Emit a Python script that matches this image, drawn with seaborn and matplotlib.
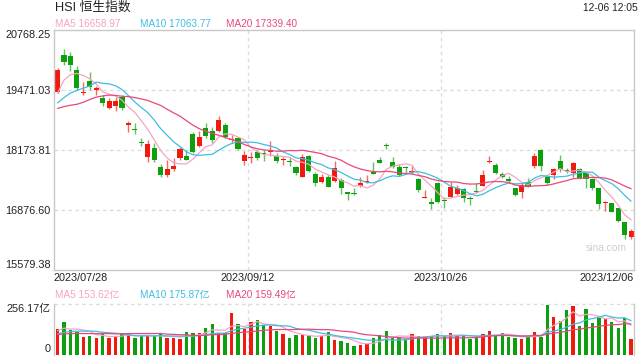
import numpy as np
import pandas as pd
import matplotlib
matplotlib.use('Agg')
import matplotlib.pyplot as plt
import seaborn as sns

# HSI daily candles, 2023/07/28 .. 2023/12/06 (index points)
open_ = [19434, 20228, 20206, 19903, 19400, 19666, 19471, 19305, 19075, 19132,
         19326, 18715, 18628, 18353, 18029, 18224, 17813, 17634, 17770, 17994,
         18044, 18520, 18260, 18643, 18591, 18591, 18715, 18390, 18427, 17936,
         18007, 18131, 18116, 18131, 18051, 17958, 17936, 17806, 17584, 18044,
         17655, 17489, 17597, 17504, 17525, 17259, 17251, 17396, 17476, 17705,
         17958, 18267, 17921, 17813, 17800, 17705, 17540, 17136, 17056, 17467,
         17093, 17164, 17222, 17324, 17143, 17288, 17396, 17921, 17850, 17648,
         17547, 17346, 17272, 17489, 17828, 18174, 17597, 17634, 17936, 17742,
         17670, 17757, 17670, 17540, 17346, 17021, 17021, 16914, 16611, 16299]
high = [19947, 20351, 20299, 19990, 19651, 19854, 19564, 19363, 19298, 19313,
        19363, 18801, 18751, 18440, 18390, 18319, 17871, 17958, 17994, 18245,
        18174, 18570, 18591, 18751, 18678, 18909, 18751, 18498, 18462, 18159,
        18137, 18174, 18174, 18368, 18102, 18029, 18016, 17828, 18081, 18066,
        17705, 17655, 17634, 17936, 17562, 17272, 17346, 17597, 17634, 17921,
        18016, 18319, 18016, 17865, 17828, 17850, 17562, 17309, 17143, 17489,
        17151, 17489, 17417, 17359, 17186, 17467, 17742, 18044, 17886, 17705,
        17612, 17359, 17467, 17562, 18102, 18189, 17634, 17791, 18066, 17791,
        17921, 17778, 17705, 17562, 17359, 17072, 17035, 16927, 16624, 16459]
low = [19400, 20012, 19888, 19471, 19363, 19471, 19363, 19125, 19060, 19024,
       19039, 18570, 18514, 18260, 17921, 17921, 17584, 17597, 17720, 17958,
       17958, 18102, 18245, 18427, 18319, 18570, 18427, 18319, 18174, 17850,
       17886, 17958, 17943, 18044, 17899, 17850, 17828, 17634, 17584, 17705,
       17396, 17467, 17368, 17489, 17222, 17093, 17201, 17380, 17454, 17655,
       17886, 18189, 17778, 17612, 17670, 17649, 17272, 17129, 16892, 17022,
       16914, 17151, 17201, 17056, 16985, 17237, 17396, 17899, 17655, 17562,
       17467, 17179, 17129, 17368, 17778, 17726, 17417, 17540, 17705, 17670,
       17597, 17540, 17359, 17309, 16892, 16861, 16827, 16624, 16243, 16243]
close = [19903, 20083, 20012, 19508, 19421, 19542, 19508, 19184, 19240, 19233,
         19088, 18764, 18606, 18340, 18304, 17958, 17634, 17763, 17828, 18189,
         17958, 18137, 18462, 18477, 18390, 18822, 18462, 18412, 18195, 18066,
         18022, 17994, 18087, 18159, 17943, 17986, 17908, 17683, 18016, 17726,
         17467, 17597, 17380, 17778, 17346, 17222, 17222, 17467, 17504, 17655,
         17899, 18254, 17813, 17634, 17778, 17727, 17309, 17157, 17000, 17056,
         17065, 17381, 17359, 17129, 17114, 17259, 17634, 17943, 17670, 17597,
         17510, 17201, 17417, 17380, 18044, 17828, 17467, 17757, 17763, 17713,
         17899, 17562, 17540, 17359, 17000, 17050, 16840, 16646, 16336, 16422]
# turnover, 亿
volume = [130, 167, 125, 113, 91, 94, 85, 104, 85, 91,
          104, 111, 85, 94, 94, 94, 104, 82, 85, 79,
          116, 111, 111, 137, 155, 108, 108, 213, 154, 130,
          167, 176, 150, 145, 120, 104, 85, 99, 102, 94,
          85, 94, 116, 73, 68, 60, 43, 48, 53, 84,
          99, 120, 85, 85, 77, 104, 94, 91, 91, 104,
          94, 111, 96, 96, 79, 85, 104, 120, 96, 111,
          87, 82, 79, 94, 116, 89, 253, 191, 171, 227,
          249, 145, 232, 162, 188, 181, 167, 137, 184, 79]

# sessions before the window, only used to start the moving averages
prior_close = [19306, 19415, 19110, 18533, 18365, 18479, 18659, 18860, 19413, 19414,
               18928, 19015, 18952, 18928, 19075, 18668, 19434, 19365, 19639]
prior_volume = [95, 90, 100, 105, 98, 88, 92, 96, 110, 100,
                85, 90, 95, 88, 92, 100, 150, 110, 115]

price_ticks = [20768.25, 19471.03, 18173.81, 16876.60, 15579.38]
date_labels = ['2023/07/28', '2023/09/12', '2023/10/26', '2023/12/06']
date_index = [0, 30, 60, 89]
ma_price_text = ['MA5 16658.97', 'MA10 17063.77', 'MA20 17339.40']
ma_vol_text = ['MA5 153.62亿', 'MA10 175.87亿', 'MA20 159.49亿']
vol_top = 256.17

RED = '#f2190f'
GREEN = '#0d9f0d'
MA_COLORS = ['#f6a4c2', '#3ebee2', '#e8487c']
GRID = '#dcdcdc'
EDGE = '#c8c8c8'

sns.set_theme(style='white')
plt.rcParams['font.family'] = ['Liberation Sans', 'Noto Sans CJK SC', 'DejaVu Sans']

n = len(close)
x = np.arange(n)
o = np.array(open_, dtype=float)
c = np.array(close, dtype=float)
up = c >= o
colors = np.where(up, RED, GREEN)

# moving averages
all_close = pd.Series(prior_close + close, dtype=float)
all_vol = pd.Series(prior_volume + volume, dtype=float)
ma_price = [all_close.rolling(w).mean().to_numpy()[-n:] for w in (5, 10, 20)]
ma_vol = [all_vol.rolling(w).mean().to_numpy()[-n:] for w in (5, 10, 20)]

W, H = 640, 360
fig = plt.figure(figsize=(6.4, 3.6), dpi=100)
ax = fig.add_axes([54 / W, 1 - 270 / H, 580 / W, 240 / H])
axv = fig.add_axes([54 / W, 1 - 354.5 / H, 580 / W, 50.2 / H], sharex=ax)

xlim = (-0.55, n - 0.55)

# ---- price panel ----
for v in price_ticks[1:4]:
    ax.axhline(v, color=GRID, lw=1, ls=(0, (2.5, 2.5)), zorder=0)
for i in date_index[1:3]:
    ax.axvline(i - 0.5, color=GRID, lw=1, ls=(0, (2.5, 2.5)), zorder=0)

ax.vlines(x, low, high, colors=colors, lw=1, alpha=0.65, zorder=1)
body_lo = np.minimum(o, c)
body_h = np.abs(c - o)
small = body_h < 22
body_lo = np.where(small, (o + c) / 2 - 11, body_lo)
body_h = np.where(small, 22, body_h)
ax.bar(x, body_h, bottom=body_lo, width=0.78, color=colors, linewidth=0, zorder=2)

for ma, col in zip(ma_price, MA_COLORS):
    sns.lineplot(x=x, y=ma, ax=ax, color=col, lw=0.9, zorder=3)

ax.set_xlim(*xlim)
ax.set_ylim(price_ticks[-1], price_ticks[0])
ax.set_yticks(price_ticks)
ax.set_yticklabels([f'{v:.2f}' for v in price_ticks])
ylabels = ax.get_yticklabels()
ylabels[0].set_va('top')
ylabels[-1].set_va('bottom')
ax.tick_params(axis='y', length=0, pad=2.5, labelsize=7.8, labelcolor='#222222')

ax.set_xticks([xlim[0], date_index[1] - 0.5, date_index[2] - 0.5, xlim[1]])
ax.set_xticklabels(date_labels)
xlabels = ax.get_xticklabels()
xlabels[0].set_ha('left')
xlabels[-1].set_ha('right')
ax.tick_params(axis='x', length=0, pad=2.5, labelsize=7.8, labelcolor='#222222')
for s in ax.spines.values():
    s.set_color(EDGE)
    s.set_linewidth(1)
ax.set_xlabel('')
ax.set_ylabel('')

ax.text(0.952, 0.09, 'sina.com', transform=ax.transAxes, ha='center', va='center',
        fontsize=7.4, color='#cfcfcf')

# ---- volume panel ----
for i in date_index[1:3]:
    axv.axvline(i - 0.5, color=GRID, lw=1, ls=(0, (2.5, 2.5)), zorder=0)
axv.axhline(vol_top, color=GRID, lw=1, ls=(0, (2.5, 2.5)), zorder=0, clip_on=False)
axv.bar(x, volume, width=0.52, color=colors, linewidth=0, zorder=2)
for ma, col in zip(ma_vol, MA_COLORS):
    sns.lineplot(x=x, y=ma, ax=axv, color=col, lw=0.9, zorder=3)
axv.set_ylim(0, vol_top)
axv.set_yticks([0, vol_top])
axv.set_yticklabels(['0', f'{vol_top:.2f}亿'])
vlabels = axv.get_yticklabels()
vlabels[0].set_va('bottom')
vlabels[1].set_va('top')
axv.tick_params(axis='y', length=0, pad=2.5, labelsize=7.8, labelcolor='#222222')
axv.tick_params(axis='x', length=0, labelbottom=False)
axv.spines['top'].set_visible(False)
axv.spines['bottom'].set_visible(False)
for side in ('left', 'right'):
    axv.spines[side].set_color(EDGE)
    axv.spines[side].set_linewidth(1)
axv.set_xlabel('')
axv.set_ylabel('')

# ---- header texts ----
fig.text(55 / W, 1 - 8 / H, 'HSI 恒生指数', ha='left', va='center', fontsize=9.2, color='#222222')
fig.text(638 / W, 1 - 8 / H, '12-06 12:05', ha='right', va='center', fontsize=7.4, color='#222222')
for txt, col, px in zip(ma_price_text, MA_COLORS, [55, 140.5, 226]):
    fig.text(px / W, 1 - 24 / H, txt, ha='left', va='center', fontsize=7.2, color=col)
for txt, col, px in zip(ma_vol_text, MA_COLORS, [55, 140, 225.5]):
    fig.text(px / W, 1 - 295 / H, txt, ha='left', va='center', fontsize=7.2, color=col)

fig.savefig('out.png', dpi=100)
